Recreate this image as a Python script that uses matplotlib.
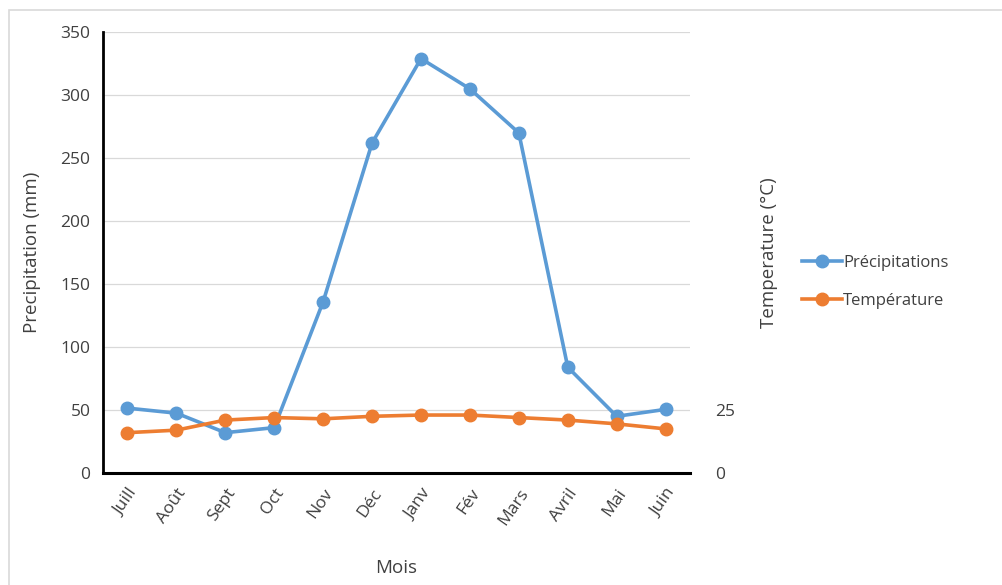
import numpy as np
import matplotlib.pyplot as plt
import matplotlib as mpl
from matplotlib.patches import Rectangle

mpl.rcParams['font.family'] = ['Open Sans', 'DejaVu Sans']

mois = ['Juill', 'Août', 'Sept', 'Oct', 'Nov', 'Déc', 'Janv', 'Fév', 'Mars', 'Avril', 'Mai', 'Juin']
precip = [51.5, 47.5, 32, 36, 136, 262, 329, 305, 270, 84, 45, 50.5]
temp = [16, 17, 21, 22, 21.5, 22.5, 23, 23, 22, 21, 19.5, 17.5]

blue = '#5B9BD5'
orange = '#ED7D31'
txt = '#404040'

fig = plt.figure(figsize=(10.03, 5.85), dpi=100)
# faint chart-area border (left/top edges visible in the original)
fig.patches.append(Rectangle((9 / 1003, -0.05), 1.1, 0.05 + 575 / 585, transform=fig.transFigure,
                             fill=False, edgecolor='#d9d9d9', lw=1.2))

ax = fig.add_axes([0.1027, 0.1915, 0.5853, 0.7535])
ax2 = ax.twinx()

x = np.arange(len(mois))
l1, = ax.plot(x, precip, color=blue, lw=2.6, marker='o', ms=9, label='Précipitations', zorder=3)
l2, = ax2.plot(x, temp, color=orange, lw=2.6, marker='o', ms=9, label='Température', zorder=3)

ax.set_xlim(-0.5, 11.5)
ax.set_ylim(0, 350)
ax.set_yticks(range(0, 351, 50))
ax.grid(axis='y', color='#d9d9d9', lw=0.9)
ax.set_axisbelow(True)
ax2.set_ylim(0, 175)
ax2.set_yticks([0, 25])

for s in ['top', 'right']:
    ax.spines[s].set_visible(False)
for s in ['top', 'right', 'left', 'bottom']:
    ax2.spines[s].set_visible(False)
ax.spines['left'].set_linewidth(2)
ax.spines['bottom'].set_linewidth(2.2)

ax.set_xticks(x)
ax.set_xticklabels(mois, rotation=55, ha='right', rotation_mode='anchor')
ax.tick_params(axis='both', length=0, labelsize=12.5, colors=txt, pad=9)
ax2.tick_params(axis='y', length=0, labelsize=12.5, labelcolor=txt, pad=18)

ax.set_xlabel('Mois', fontsize=13.5, color=txt, labelpad=22)
ax.set_ylabel('Precipitation (mm)', fontsize=13.5, color=txt, labelpad=14)
ax2.set_ylabel('Temperature (°C)', fontsize=13.5, color=txt, labelpad=18)

fig.legend(handles=[l1, l2], loc='center left', bbox_to_anchor=(0.8, 0.518),
           frameon=False, fontsize=12, labelspacing=1.35, handlelength=2.4,
           handletextpad=0.05, labelcolor=txt, borderaxespad=0, borderpad=0)

fig.savefig('out.png', dpi=100)
